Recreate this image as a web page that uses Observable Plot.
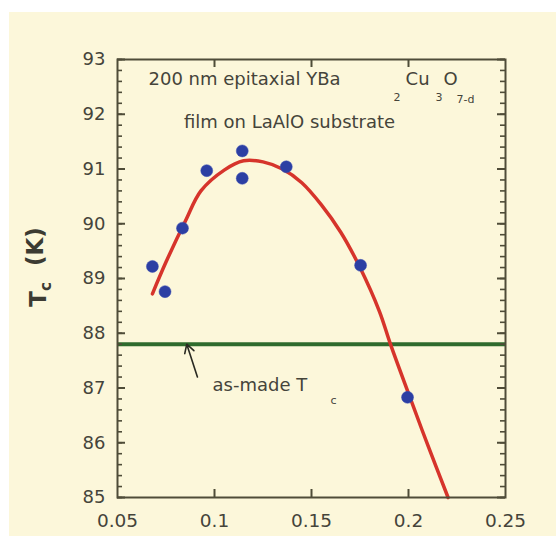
<!DOCTYPE html>
<html><head><meta charset="utf-8">
<script src="https://cdn.jsdelivr.net/npm/d3@7"></script>
<script src="https://cdn.jsdelivr.net/npm/@observablehq/plot@0.6"></script>
<style>
html,body{margin:0;padding:0;background:#fff;}
#wrap{padding:12px 0 0 9px;}
#chart svg{display:block;}
</style></head><body><div id="wrap"><div id="chart"></div></div>
<script>
// measured points
const xValues  = [0.068, 0.0745, 0.0835, 0.096, 0.1143, 0.1143, 0.137, 0.1753, 0.1995];
const tcValues = [89.22, 88.76, 89.92, 90.97, 91.33, 90.83, 91.04, 89.24, 86.83];
// fitted curve
const fitX  = [0.068, 0.075, 0.085, 0.093, 0.105, 0.115, 0.125, 0.135, 0.145, 0.155, 0.165, 0.175, 0.185, 0.1907, 0.2, 0.21, 0.2204];
const fitTc = [88.72, 89.3, 90.05, 90.6, 90.98, 91.15, 91.13, 91.0, 90.75, 90.35, 89.85, 89.2, 88.4, 87.8, 86.9, 85.95, 85.0];
const asMadeTc = 87.8;
const xTicks = [0.05, 0.1, 0.15, 0.2, 0.25];
const xInnerTicks = [0.1, 0.15, 0.2];
const yTicks = [85, 86, 87, 88, 89, 90, 91, 92, 93];
const yMinorTicks = d3.range(85, 93.001, 0.2).map(v => +v.toFixed(1));

const points = xValues.map((x, i) => ({x, tc: tcValues[i]}));
const fit = fitX.map((x, i) => ({x, tc: fitTc[i]}));

const axisColor = "#4f4c38";
const textColor = "#45443a";
const font = "DejaVu Sans";

const W = 547, H = 524, ML = 108, MR = 51, MT = 47, MB = 39;
const plotW = W - ML - MR, plotH = H - MT - MB;

const annStart = [
  {x: 0.066,  y: 92.64, t: "200 nm epitaxial YBa", s: 18},
  {x: 0.1923, y: 92.31, t: "2",   s: 11},
  {x: 0.1985, y: 92.64, t: "Cu",  s: 18},
  {x: 0.2139, y: 92.31, t: "3",   s: 11},
  {x: 0.218,  y: 92.64, t: "O",   s: 18},
  {x: 0.2247, y: 92.27, t: "7-d", s: 11},
  {x: 0.099,  y: 87.05, t: "as-made T", s: 18},
  {x: 0.1598, y: 86.78, t: "c", s: 11}
];
const annMiddle = [
  {x: 0.1387, y: 91.85, t: "film on LaAlO substrate", s: 18}
];

const chart = Plot.plot({
  width: W, height: H,
  marginLeft: ML, marginRight: MR, marginTop: MT, marginBottom: MB,
  style: {background: "#fcf7da", fontFamily: font, color: textColor},
  x: {domain: [0.05, 0.25]},
  y: {domain: [85, 93]},
  marks: [
    Plot.ruleY([asMadeTc], {stroke: "#2f6b2d", strokeWidth: 4}),
    Plot.line(fit, {x: "x", y: "tc", stroke: "#d6342b", strokeWidth: 3.5, curve: "catmull-rom"}),
    Plot.dot(points, {x: "x", y: "tc", r: 6, fill: "#2c3fa3", stroke: "#3a4fb5", strokeWidth: 0.5}),
    Plot.arrow([{x1: 0.0912, y1: 87.2, x2: 0.0857, y2: 87.8}], {x1: "x1", y1: "y1", x2: "x2", y2: "y2", stroke: "#2a2a22", strokeWidth: 1.6, headLength: 9}),
    Plot.text(annStart, {x: "x", y: "y", text: "t", fontSize: "s", textAnchor: "start", fill: textColor}),
    Plot.text(annMiddle, {x: "x", y: "y", text: "t", fontSize: "s", textAnchor: "middle", fill: textColor}),
    // tick labels
    Plot.axisY(yTicks, {tickSize: 0, tickPadding: 12, fontSize: 18, fill: textColor, label: null, tickFormat: d => String(d)}),
    Plot.axisX(xTicks, {tickSize: 0, tickPadding: 16, fontSize: 18.5, fill: textColor, label: null, tickFormat: d => String(d)}),
    // inward ticks
    Plot.tickY(yTicks, {y: d => d, insetRight: plotW - 8, stroke: axisColor, strokeWidth: 2}),
    Plot.tickY(yMinorTicks, {y: d => d, insetRight: plotW - 5, stroke: axisColor, strokeWidth: 1.6}),
    Plot.tickY(yTicks, {y: d => d, insetLeft: plotW - 8, stroke: axisColor, strokeWidth: 2}),
    Plot.tickY(yMinorTicks, {y: d => d, insetLeft: plotW - 5, stroke: axisColor, strokeWidth: 1.6}),
    Plot.tickX(xInnerTicks, {x: d => d, insetTop: plotH - 8, stroke: axisColor, strokeWidth: 2}),
    Plot.tickX(xInnerTicks, {x: d => d, insetBottom: plotH - 8, stroke: axisColor, strokeWidth: 2}),
    Plot.frame({stroke: axisColor, strokeWidth: 2}),
    // y title
    Plot.text(["Tc (K)"], {y: 89.21, frameAnchor: "left", textAnchor: "middle", dx: -79, rotate: -90, text: d => d, fontSize: 23, fontWeight: "bold", fill: "#3c3b32", className: "ytitle"})
  ]
});

document.getElementById("chart").appendChild(chart);

// subscript for the y title
const t = chart.querySelector(".ytitle text");
if (t) {
  t.textContent = "";
  const ns = "http://www.w3.org/2000/svg";
  const a = document.createElementNS(ns, "tspan"); a.textContent = "T";
  const b = document.createElementNS(ns, "tspan"); b.textContent = "c"; b.setAttribute("dy", "0.35em"); b.setAttribute("font-size", "15");
  const c = document.createElementNS(ns, "tspan"); c.textContent = "\u00a0\u00a0(K)"; c.setAttribute("dy", "-0.35em");
  t.append(a, b, c);
}
</script></body></html>
